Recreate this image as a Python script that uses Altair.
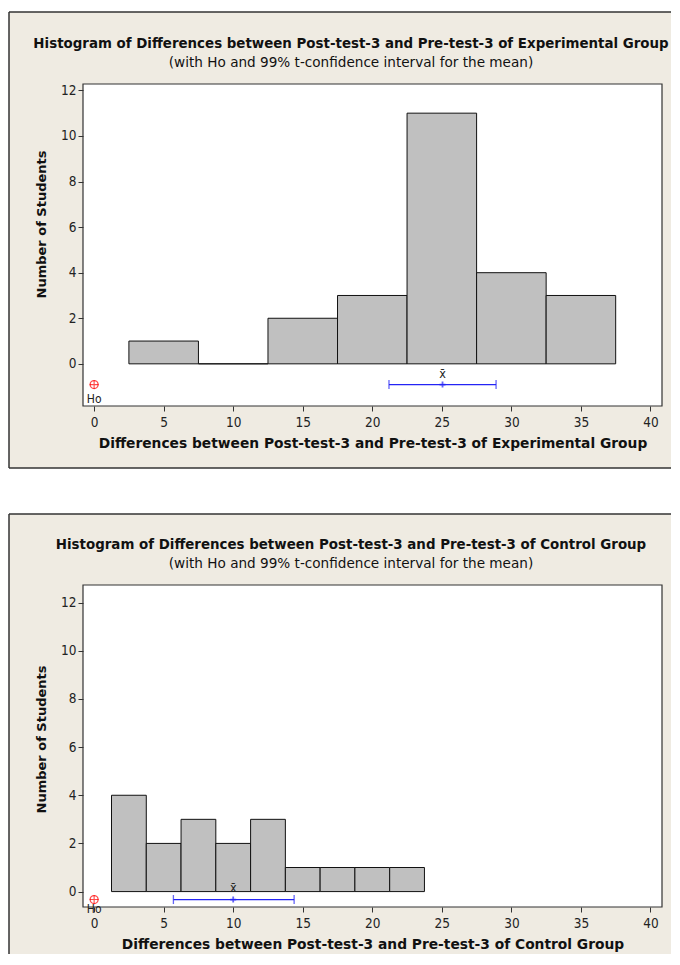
import altair as alt
import pandas as pd

# ---------------- data ----------------
exp_lo = [2.5, 7.5, 12.5, 17.5, 22.5, 27.5, 32.5]
exp_hi = [7.5, 12.5, 17.5, 22.5, 27.5, 32.5, 37.5]
exp_counts = [1, 0, 2, 3, 11, 4, 3]

ctl_lo = [1.25, 3.75, 6.25, 8.75, 11.25, 13.75, 16.25, 18.75, 21.25]
ctl_hi = [3.75, 6.25, 8.75, 11.25, 13.75, 16.25, 18.75, 21.25, 23.75]
ctl_counts = [4, 2, 3, 2, 3, 1, 1, 1, 1]

exp_ci = [21.2, 25.05, 28.9]   # lower, mean, upper
ctl_ci = [5.7, 10.0, 14.38]
ho_value = 0

x_ticks = [0, 5, 10, 15, 20, 25, 30, 35, 40]
y_ticks = [0, 2, 4, 6, 8, 10, 12]

exp_title = "Histogram of Differences between Post-test-3 and Pre-test-3 of Experimental Group"
ctl_title = "Histogram of Differences between Post-test-3 and Pre-test-3 of Control Group"
subtitle = "(with Ho and 99% t-confidence interval for the mean)"
exp_xtitle = "Differences between Post-test-3 and Pre-test-3 of Experimental Group"
ctl_xtitle = "Differences between Post-test-3 and Pre-test-3 of Control Group"
y_title = "Number of Students"

# ---------------- style ----------------
W, H = 579, 322
BG = "#EFEBE2"
FRAME = "#333333"
BOLD_FONT = "DejaVu Sans"
REG_FONT = "DejaVu Sans Condensed"
XDOM = [-0.8, 40.83]
BLUE = "#2424F5"
RIGHT = 588


def panel(title, xtitle, lo, hi, counts, ci, ydom, marker_y, top_y, bot_y,
          draw_bottom, ho_dy, xbar_dy, ytitle_y):
    one = pd.DataFrame({"a": [0]})
    bg = alt.Chart(one).mark_rect(fill=BG, strokeWidth=0).encode(
        x=alt.value(-74), x2=alt.value(RIGHT), y=alt.value(top_y), y2=alt.value(bot_y))
    left = alt.Chart(one).mark_rule(color=FRAME, strokeWidth=1.5).encode(
        x=alt.value(-74), y=alt.value(top_y), y2=alt.value(bot_y))
    top = alt.Chart(one).mark_rule(color=FRAME, strokeWidth=1.5).encode(
        x=alt.value(-74), x2=alt.value(RIGHT), y=alt.value(top_y))
    layers = [bg, left, top]
    if draw_bottom:
        bottom = alt.Chart(one).mark_rule(color=FRAME, strokeWidth=1.5).encode(
            x=alt.value(-74), x2=alt.value(RIGHT), y=alt.value(bot_y))
        layers.append(bottom)
    plot_bg = alt.Chart(one).mark_rect(fill="white", stroke=FRAME, strokeWidth=1.2).encode(
        x=alt.value(0), x2=alt.value(W), y=alt.value(0), y2=alt.value(H))
    layers.append(plot_bg)

    titles = pd.DataFrame({"t": [title, subtitle]})
    t1 = alt.Chart(titles.iloc[[0]]).mark_text(
        font=BOLD_FONT, fontWeight="bold", fontSize=13.4, align="center",
        baseline="middle", color="#111").encode(
        text="t:N", x=alt.value(268), y=alt.value(-40))
    t2 = alt.Chart(titles.iloc[[1]]).mark_text(
        font=BOLD_FONT, fontSize=13.6, align="center", baseline="middle",
        color="#111").encode(text="t:N", x=alt.value(268), y=alt.value(-21))
    layers += [t1, t2]

    xs = alt.Scale(domain=XDOM, nice=False, zero=False)
    ys = alt.Scale(domain=ydom, nice=False, zero=False)
    xaxis = alt.Axis(values=x_ticks, title=xtitle, grid=False, domain=False,
                     tickColor=FRAME, tickSize=5, labelFont=REG_FONT,
                     labelFontSize=13.5, labelColor="#222", labelPadding=4,
                     titleFont=BOLD_FONT, titleFontWeight="bold", titleFontSize=13.8,
                     titleColor="#111", titleX=W / 2, titleY=37,
                     titleBaseline="middle", zindex=1)
    yaxis = alt.Axis(values=y_ticks, title=y_title, grid=False, domain=False,
                     tickColor=FRAME, tickSize=5, labelFont=REG_FONT,
                     labelFontSize=13.5, labelColor="#222", labelPadding=2,
                     titleFont=BOLD_FONT, titleFontWeight="bold", titleFontSize=13,
                     titleColor="#111", titleX=-42, titleY=ytitle_y, titleAngle=-90,
                     titleAlign="center", titleBaseline="middle", zindex=1)

    bars_df = pd.DataFrame({"lo": lo, "hi": hi, "n": counts, "base": [0] * len(lo)})
    bars = alt.Chart(bars_df).mark_rect(fill="#C0C0C0", stroke="#111", strokeWidth=1).encode(
        x=alt.X("lo:Q", scale=xs, axis=xaxis),
        x2="hi:Q",
        y=alt.Y("base:Q", scale=ys, axis=yaxis),
        y2="n:Q")
    layers.append(bars)

    ho_df = pd.DataFrame({"x": [ho_value], "y": [marker_y], "t": ["Ho"]})
    ho_c = alt.Chart(ho_df).mark_point(shape="circle", filled=False, color="#FF0000",
                                       size=64, strokeWidth=1.3).encode(
        x=alt.X("x:Q", scale=xs), y=alt.Y("y:Q", scale=ys))
    ho_p = alt.Chart(ho_df).mark_point(shape="M-1,0L1,0M0,-1L0,1", filled=False,
                                       color="#FF0000", size=81, strokeWidth=1.1).encode(
        x=alt.X("x:Q", scale=xs), y=alt.Y("y:Q", scale=ys))
    ho_t = alt.Chart(ho_df).mark_text(font=REG_FONT, fontSize=12, color="#222",
                                      dy=ho_dy, align="center", baseline="middle").encode(
        x=alt.X("x:Q", scale=xs), y=alt.Y("y:Q", scale=ys), text="t:N")
    layers += [ho_c, ho_p, ho_t]

    ci_df = pd.DataFrame({"lo": [ci[0]], "m": [ci[1]], "hi": [ci[2]], "y": [marker_y],
                          "t": ["x\u0304"]})
    ends_df = pd.DataFrame({"x": [ci[0], ci[2]], "y": [marker_y, marker_y]})
    ci_line = alt.Chart(ci_df).mark_rule(color=BLUE, strokeWidth=1.3).encode(
        x=alt.X("lo:Q", scale=xs), x2="hi:Q", y=alt.Y("y:Q", scale=ys))
    ci_ends = alt.Chart(ends_df).mark_point(shape="M0,-1L0,1", filled=False,
                                            color=BLUE, size=81, strokeWidth=1.3).encode(
        x=alt.X("x:Q", scale=xs), y=alt.Y("y:Q", scale=ys))
    ci_mean = alt.Chart(ci_df).mark_point(shape="M-1,0L1,0M0,-1L0,1", filled=False,
                                          color=BLUE, size=36, strokeWidth=1.8).encode(
        x=alt.X("m:Q", scale=xs), y=alt.Y("y:Q", scale=ys))
    ci_t = alt.Chart(ci_df).mark_text(font=REG_FONT, fontSize=12.5, color="#222",
                                      dy=xbar_dy, align="center", baseline="middle").encode(
        x=alt.X("m:Q", scale=xs), y=alt.Y("y:Q", scale=ys), text="t:N")
    layers += [ci_line, ci_ends, ci_mean, ci_t]

    return alt.layer(*layers).properties(width=W, height=H)


top_panel = panel(exp_title, exp_xtitle, exp_lo, exp_hi, exp_counts, exp_ci,
                  [-1.85, 12.28], -0.91, -72, 384, True, 14, -11, 140)
bottom_panel = panel(ctl_title, ctl_xtitle, ctl_lo, ctl_hi, ctl_counts, ctl_ci,
                     [-0.64, 12.73], -0.33, -71, 369, False, 9, -12, 154)

chart = alt.vconcat(top_panel, bottom_panel, spacing=44).properties(
    padding={"left": 0, "top": 3, "right": 0, "bottom": 0},
    background="white"
).configure_view(stroke=None)

chart.save("out.html", embed_options={"renderer": "svg", "actions": False})
